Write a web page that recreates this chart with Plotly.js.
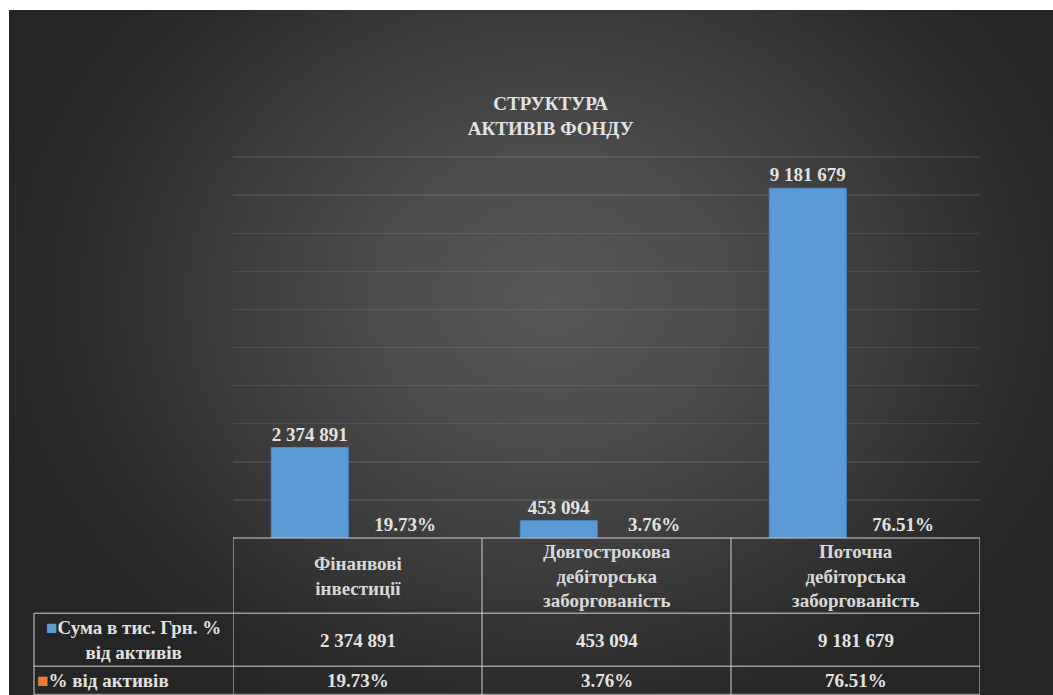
<!DOCTYPE html>
<html>
<head>
<meta charset="utf-8">
<script src="https://cdn.plot.ly/plotly-3.0.1.min.js"></script>
<style>
  html, body { margin: 0; padding: 0; background: #ffffff; }
  #wrap { position: relative; width: 1053px; height: 695px; overflow: hidden; background: #ffffff; }
  #bg { position: absolute; left: 9px; top: 10px; width: 1044px; height: 685px;
        background: radial-gradient(ellipse 55% 70% at 52% 42%, #575757 0%, #4c4c4c 30%, #3a3a3a 60%, #2a2a2a 85%, #252525 100%); }
  #chart { position: absolute; left: 0; top: 0; width: 1053px; height: 695px; }
</style>
</head>
<body>
<div id="wrap"><div id="bg"></div><div id="chart"></div></div>
<script>
// ---- data ----
const categories = ['Фінанвові<br>інвестиції', 'Довгострокова<br>дебіторська<br>заборгованість', 'Поточна<br>дебіторська<br>заборгованість'];
const seriesNames = ['Сума в тис. Грн. % від активів', '% від активів'];
const amounts = [2374891, 453094, 9181679];
const shares = [0.1973, 0.0376, 0.7651];
const titleText = 'СТРУКТУРА<br>АКТИВІВ ФОНДУ';

// ---- helpers ----
const serif = 'Liberation Serif';
const txt = '#e2e2e2';
const blue = '#5b9bd5';
const orange = '#ed7d31';
function fmtNum(n) { return n.toString().replace(/\B(?=(\d{3})+(?!\d))/g, ' '); }
function fmtPct(v) { return (v * 100).toFixed(2) + '%'; }

// pixel -> paper y (plot area from y=157 (top) to y=538 (bottom))
const plotTop = 157, plotBottom = 538, plotH = plotBottom - plotTop;
function py(p) { return (plotBottom - p) / plotH; }
// pixel -> paper x, plot x from 233 to 980
const plotL = 233, plotR = 980, plotW = plotR - plotL;
function pxPaper(p) { return (p - plotL) / plotW; }

const labelFont = { family: serif, size: 19, color: txt, weight: 'bold' };
const traces = [
  {
    type: 'bar', name: seriesNames[0], x: categories, y: amounts,
    marker: { color: blue, line: { color: '#4a8ccc', width: 1 } },
    texttemplate: '%{y:,}', textposition: 'outside', cliponaxis: false, constraintext: 'none',
    outsidetextfont: labelFont, textfont: labelFont,
    hoverinfo: 'none'
  },
  {
    type: 'bar', name: seriesNames[1], x: categories, y: shares,
    marker: { color: orange },
    texttemplate: '%{y:.2%}', textposition: 'outside', cliponaxis: false, constraintext: 'none',
    outsidetextfont: labelFont, textfont: labelFont,
    hoverinfo: 'none'
  }
];

// ---- table (shapes + annotations) ----
const lineStyle = { color: 'rgba(200,200,200,0.7)', width: 1.5 };
const rowY = [py(538), py(613), py(666), py(694)];
const leftX = pxPaper(34);
const shapes = [];
shapes.push({ type: 'line', xref: 'x', yref: 'paper', x0: -0.5, x1: categories.length - 0.5, y0: rowY[0], y1: rowY[0], line: lineStyle });
for (let r = 1; r < rowY.length; r++) {
  shapes.push({ type: 'line', xref: 'paper', yref: 'paper', x0: leftX, x1: 1, y0: rowY[r], y1: rowY[r], line: lineStyle });
}
for (let c = 0; c <= categories.length; c++) {
  shapes.push({ type: 'line', xref: 'x', yref: 'paper', x0: c - 0.5, x1: c - 0.5, y0: rowY[0], y1: rowY[3], line: lineStyle });
}
shapes.push({ type: 'line', xref: 'paper', yref: 'paper', x0: leftX, x1: leftX, y0: rowY[1], y1: rowY[3], line: lineStyle });

const annotations = [];
const headerY = py(576), amtY = py(640), pctY = py(680);
const cellFont = { family: serif, size: 19, color: txt, weight: 'bold' };
categories.forEach((c, i) => {
  annotations.push({ xref: 'x', yref: 'paper', x: i, y: headerY, text: c, showarrow: false, xanchor: 'center', yanchor: 'middle', align: 'center',
    font: { family: serif, size: 19, color: '#d8d8d8', weight: 'bold' } });
  annotations.push({ xref: 'x', yref: 'paper', x: i, y: amtY, text: fmtNum(amounts[i]), showarrow: false, xanchor: 'center', yanchor: 'middle', font: cellFont });
  annotations.push({ xref: 'x', yref: 'paper', x: i, y: pctY, text: fmtPct(shares[i]), showarrow: false, xanchor: 'center', yanchor: 'middle', font: cellFont });
});
annotations.push({ xref: 'paper', yref: 'paper', x: pxPaper(133), y: amtY, showarrow: false, xanchor: 'center', yanchor: 'middle', align: 'center',
  text: '<span style="color:' + blue + '">■</span>Сума в тис. Грн. %<br>від активів', font: cellFont });
annotations.push({ xref: 'paper', yref: 'paper', x: pxPaper(35), y: pctY, showarrow: false, yanchor: 'middle', xanchor: 'left', align: 'left',
  text: '<span style="color:' + orange + '">■</span>' + seriesNames[1], font: cellFont });

const layout = {
  width: 1053, height: 695,
  paper_bgcolor: 'rgba(0,0,0,0)', plot_bgcolor: 'rgba(0,0,0,0)',
  margin: { l: plotL, r: 1053 - plotR, t: plotTop - 1, b: 695 - plotBottom, pad: 0 },
  separators: '. ',
  title: { text: titleText, x: 0.523, xanchor: 'center', y: 1 - 110 / 695, yanchor: 'middle',
    font: { family: serif, size: 19, color: txt, weight: 'bold' } },
  showlegend: false,
  barmode: 'group', bargap: 0.233, bargroupgap: 0.194,
  xaxis: { type: 'category', range: [-0.5, categories.length - 0.5], autorange: false,
    showticklabels: false, showgrid: false, zeroline: false, showline: false, ticks: '' },
  yaxis: { range: [0, 10030000], autorange: false, tick0: 0, dtick: 1000000, showticklabels: false,
    gridcolor: 'rgba(255,255,255,0.09)', gridwidth: 1.5, zeroline: false, showline: false, ticks: '' },
  shapes: shapes,
  annotations: annotations
};

Plotly.newPlot('chart', traces, layout, { displayModeBar: false, staticPlot: true });
</script>
</body>
</html>
